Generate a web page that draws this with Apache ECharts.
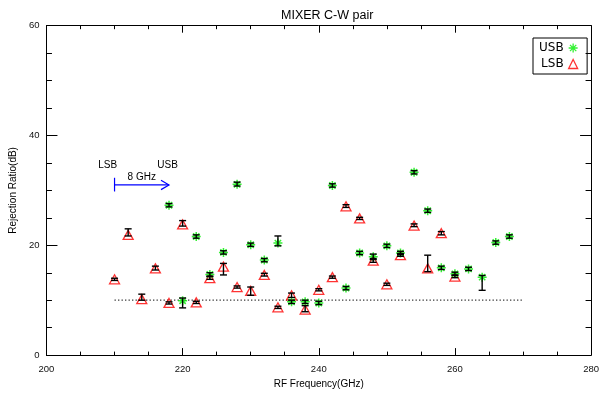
<!DOCTYPE html>
<html>
<head>
<meta charset="utf-8">
<script src="https://cdn.jsdelivr.net/npm/echarts@6/dist/echarts.min.js"></script>
<style>
  html, body { margin: 0; padding: 0; background: #fff; }
  #chart { width: 602px; height: 394px; }
</style>
</head>
<body>
<div id="chart"></div>
<script>
// Lower sideband (LSB) rejection ratio, dB, with measured min/max spread
const lsbFreq = [210, 212, 214, 216, 218, 220, 222, 224, 226, 228, 230, 232, 234,
                 236, 238, 240, 242, 244, 246, 248, 250, 252, 254, 256, 258, 260];
const lsbVal  = [13.8, 21.9, 10.2, 15.8, 9.5, 23.8, 9.6, 14.0, 16.1, 12.4, 11.7, 14.6, 8.7,
                 10.9, 8.3, 11.9, 14.2, 27.1, 24.9, 17.2, 12.9, 18.2, 23.6, 15.8, 22.2, 14.3];
const lsbLo   = [13.6, 21.7, 10.0, 15.5, 9.3, 23.5, 9.4, 13.8, 14.6, 12.2, 10.9, 14.4, 8.5,
                 10.5, 7.9, 11.7, 14.0, 26.9, 24.7, 16.9, 12.7, 18.0, 23.4, 15.2, 21.9, 14.1];
const lsbHi   = [14.0, 23.0, 11.1, 16.2, 9.7, 24.5, 9.8, 14.3, 16.7, 12.6, 12.4, 14.9, 8.9,
                 11.3, 9.0, 12.1, 14.4, 27.4, 25.1, 17.6, 13.1, 18.5, 23.9, 18.2, 22.5, 14.6];

// Upper sideband (USB) rejection ratio, dB
const usbFreq = [218, 220, 222, 224, 226, 228, 230, 232, 234, 236, 238, 240, 242,
                 244, 246, 248, 250, 252, 254, 256, 258, 260, 262, 264, 266, 268];
const usbVal  = [27.3, 9.9, 21.6, 14.7, 18.7, 31.1, 20.1, 17.3, 20.4, 9.7, 9.7, 9.5, 30.9,
                 12.2, 18.6, 17.9, 19.9, 18.6, 33.3, 26.3, 15.9, 14.8, 15.7, 14.2, 20.5, 21.6];
const usbLo   = [27.0, 8.6, 21.3, 14.4, 18.4, 30.8, 19.8, 17.0, 19.9, 9.4, 9.4, 9.2, 30.6,
                 11.9, 18.3, 17.4, 19.6, 18.3, 33.0, 26.0, 15.6, 14.5, 15.4, 11.8, 20.2, 21.3];
const usbHi   = [27.6, 10.4, 21.9, 15.0, 19.0, 31.5, 20.4, 17.6, 21.7, 10.0, 10.0, 9.8, 31.2,
                 12.5, 18.9, 18.4, 20.2, 18.9, 33.6, 26.6, 16.2, 15.1, 16.0, 14.5, 20.8, 21.9];

// Spec limit line (dB) and its frequency span
const specFreq = [210, 270];
const specLevel = [10, 10];

// IF offset annotation: LSB -> USB separation
const offsetFreq = [210, 218];
const offsetLevel = 31.0;
const offsetBar = [29.8, 32.3];
const offsetLabels = ['LSB', 'USB', '8 GHz'];
const offsetLabelFreq = [209.0, 217.8, 214.0];
const offsetLabelLevel = [34.6, 34.6, 32.4];

// Axis ranges and tick steps
const xRange = [200, 280], xStep = 20;
const yRange = [0, 60], yStep = 20;

const asterisk = 'path://M0,4L8,4M4,0L4,8M1.2,1.2L6.8,6.8M6.8,1.2L1.2,6.8';
const labelFont = 'Liberation Sans';

function errorBars(freq, lo, hi, name) {
  return {
    type: 'custom',
    name: name,
    data: freq.map((f, i) => [f, lo[i], hi[i]]),
    encode: { x: 0, y: [1, 2] },
    silent: true,
    z: 6,
    renderItem: (params, api) => {
      const x = api.value(0);
      const a = api.coord([x, api.value(1)]);
      const b = api.coord([x, api.value(2)]);
      const cap = 3.5;
      const st = { stroke: '#000', lineWidth: 1.4 };
      return {
        type: 'group',
        children: [
          { type: 'line', shape: { x1: a[0], y1: a[1], x2: b[0], y2: b[1] }, style: st },
          { type: 'line', shape: { x1: a[0] - cap, y1: a[1], x2: a[0] + cap, y2: a[1] }, style: st },
          { type: 'line', shape: { x1: b[0] - cap, y1: b[1], x2: b[0] + cap, y2: b[1] }, style: st }
        ]
      };
    }
  };
}

function axisCommon(showLabels, tickLen) {
  return {
    type: 'value',
    axisLine: { show: true, onZero: false, lineStyle: { color: '#000', width: 1 } },
    axisTick: { show: true, inside: true, length: tickLen, lineStyle: { color: '#000' } },
    minorTick: { show: true, splitNumber: 4, length: tickLen / 2, lineStyle: { color: '#000' } },
    splitLine: { show: false },
    minorSplitLine: { show: false },
    axisLabel: {
      show: showLabels, color: '#111', fontSize: 9.5, fontFamily: labelFont,
      showMinLabel: true, showMaxLabel: true
    }
  };
}

const chart = echarts.init(document.getElementById('chart'), null, { renderer: 'canvas' });

chart.setOption({
  animation: false,
  backgroundColor: '#fff',
  title: {
    text: 'MIXER C-W pair',
    left: 276, top: 4,
    textStyle: { fontSize: 12.5, fontWeight: 'normal', color: '#000', fontFamily: labelFont }
  },
  legend: {
    data: [{ name: 'USB', icon: asterisk }, { name: 'LSB', icon: 'triangle' }],
    orient: 'vertical', align: 'right',
    left: 533, top: 38,
    borderColor: '#000', borderWidth: 1, borderRadius: 0,
    padding: [3, 7, 3, 6], itemGap: 2, itemWidth: 9, itemHeight: 9,
    textStyle: { fontSize: 12, fontFamily: 'DejaVu Sans', color: '#000' },
    itemStyle: { borderWidth: 1.3 }
  },
  grid: { left: 42.3, right: 7.7, top: 25.7, bottom: 33, containLabel: false },
  xAxis: [
    Object.assign(axisCommon(true, 7), {
      position: 'bottom', min: xRange[0], max: xRange[1], interval: xStep,
      name: 'RF Frequency(GHz)', nameLocation: 'middle', nameGap: 23,
      nameTextStyle: { fontSize: 10, color: '#000', fontFamily: labelFont },
      axisLabel: Object.assign(axisCommon(true, 7).axisLabel, { margin: 9 })
    }),
    Object.assign(axisCommon(false, 7), {
      position: 'top', min: xRange[0], max: xRange[1], interval: xStep
    })
  ],
  yAxis: [
    Object.assign(axisCommon(true, 11), {
      position: 'left', min: yRange[0], max: yRange[1], interval: yStep,
      name: 'Rejection Ratio(dB)', nameLocation: 'middle', nameGap: 25, nameRotate: 90,
      nameTextStyle: { fontSize: 10, color: '#000', fontFamily: labelFont },
      axisLabel: Object.assign(axisCommon(true, 11).axisLabel, { margin: 7 })
    }),
    Object.assign(axisCommon(false, 11), {
      position: 'right', min: yRange[0], max: yRange[1], interval: yStep
    })
  ],
  series: [
    {
      type: 'line', name: 'spec',
      data: specFreq.map((f, i) => [f, specLevel[i]]),
      symbol: 'none', silent: true,
      lineStyle: { color: '#333', width: 1.3, type: [1.3, 2.2] },
      z: 1
    },
    {
      type: 'scatter', name: 'LSB',
      data: lsbFreq.map((f, i) => [f, lsbVal[i]]),
      symbol: 'triangle', symbolSize: [10, 9],
      itemStyle: { color: 'none', borderColor: '#ff0000', borderWidth: 1.3 },
      z: 3
    },
    {
      type: 'scatter', name: 'USB',
      data: usbFreq.map((f, i) => [f, usbVal[i]]),
      symbol: asterisk, symbolSize: 9,
      itemStyle: { color: 'none', borderColor: '#00ee00', borderWidth: 1.5 },
      z: 4
    },
    errorBars(lsbFreq, lsbLo, lsbHi, 'LSB range'),
    errorBars(usbFreq, usbLo, usbHi, 'USB range'),
    {
      type: 'custom', name: 'offset',
      data: [[offsetFreq[0], offsetLevel]],
      silent: true, z: 7,
      renderItem: (params, api) => {
        const p0 = api.coord([offsetFreq[0], offsetLevel]);
        const p1 = api.coord([offsetFreq[1], offsetLevel]);
        const b0 = api.coord([offsetFreq[0], offsetBar[0]]);
        const b1 = api.coord([offsetFreq[0], offsetBar[1]]);
        const blue = { stroke: '#0000ff', lineWidth: 1.2 };
        const kids = [
          { type: 'line', shape: { x1: p0[0], y1: p0[1], x2: p1[0], y2: p1[1] }, style: blue },
          { type: 'line', shape: { x1: b0[0], y1: b0[1], x2: b1[0], y2: b1[1] }, style: blue },
          { type: 'polyline', shape: { points: [[p1[0] - 8, p1[1] - 4.7], [p1[0], p1[1]], [p1[0] - 8, p1[1] + 4.7]] }, style: Object.assign({ fill: 'none' }, blue) }
        ];
        offsetLabels.forEach((t, i) => {
          const q = api.coord([offsetLabelFreq[i], offsetLabelLevel[i]]);
          kids.push({
            type: 'text', x: q[0], y: q[1],
            style: { text: t, fill: '#000', font: '10px "Liberation Sans"', align: 'center', verticalAlign: 'middle' }
          });
        });
        return { type: 'group', children: kids };
      }
    }
  ]
});
</script>
</body>
</html>
